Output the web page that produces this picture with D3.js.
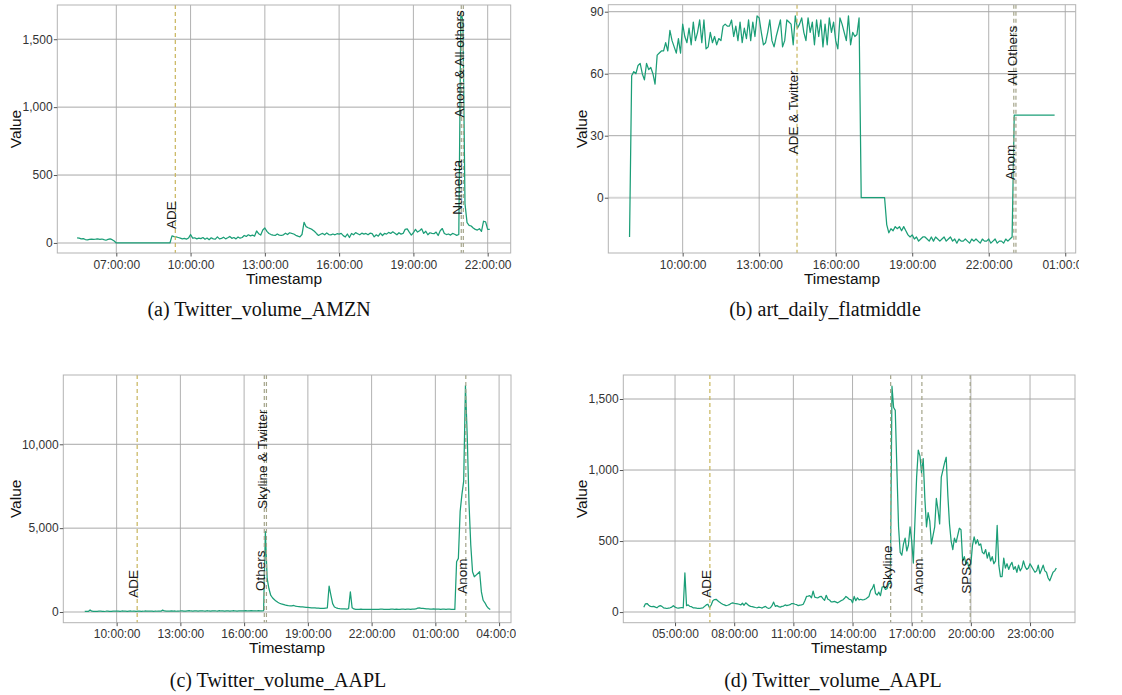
<!DOCTYPE html>
<html><head><meta charset="utf-8">
<script src="https://cdn.jsdelivr.net/npm/d3@7"></script>
<style>
html,body{margin:0;padding:0;background:#fff;}
svg{display:block;}
</style></head>
<body>
<svg id="chart" width="1122" height="695"></svg>
<script>
// ================= DATA =================
// (a) Twitter_volume_AMZN — 5-minute samples starting 05:25
const amznStart = "05:25";
const amznStepMin = 5;
const amznValues = [
  38,36,30,32,25,22,26,
  28,27,28,30,27,29,24,20,26,30,24,14,
  0,0,0,0,0,0,0,0,0,0,0,0,
  0,0,0,0,0,0,0,0,0,0,0,0,
  0,0,0,52,46,44,40,36,30,33,28,36,
  62,36,38,30,36,32,40,27,36,24,38,30,
  28,45,30,34,42,30,38,48,34,40,30,44,
  35,40,55,48,60,52,58,50,88,68,58,95,
  110,85,70,62,58,55,66,58,55,60,72,62,
  75,70,66,56,50,45,62,152,120,112,106,98,
  86,70,55,64,70,60,74,62,60,66,60,68,
  65,70,54,44,66,40,70,60,76,68,60,72,
  65,70,60,72,68,45,60,50,72,55,70,65,
  78,70,82,72,60,75,65,70,100,104,80,58,
  75,100,80,90,104,70,86,60,75,70,68,80,
  55,90,106,70,62,66,58,70,64,56,62,1690,
  1640,290,150,130,125,110,100,95,105,85,160,155,
  100,100
];
const amznMarkers = ["ADE", "Numenta", "Anom & All others"];
const amznMarkerTimes = ["09:23", "20:56", "21:01"];
const amznLabelAt = [103, 207, 923];
const amznXTicks = ["07:00:00", "10:00:00", "13:00:00", "16:00:00", "19:00:00", "22:00:00"];
const amznYTicks = [0, 500, 1000, 1500];
const amznCaption = "(a) Twitter_volume_AMZN";

// (b) art_daily_flatmiddle — 5-minute samples starting 07:55
const flatStart = "07:55";
const flatStepMin = 5;
const flatValues = [
  -19,
  59,61,60,64,65,60,57,65,62,63,60,55,
  69,70,71,71,75,71,81,76,73,70,77,70,
  84,78,75,82,74,85,76,80,86,75,86,72,
  73,80,75,78,74,77,76,83,84,83,83,86,
  78,83,76,85,75,82,77,86,76,85,78,88,
  87,80,74,75,80,86,76,73,78,82,86,73,
  76,86,85,84,74,88,82,84,87,80,76,87,
  80,85,74,86,78,86,73,84,74,87,80,85,
  76,72,87,84,80,76,88,74,80,78,79,87,
  0,0,0,0,0,0,0,0,0,0,0,0,
  -13,-17,-15,-16,-14,-15,-14,-16,-14,-16,-18,-19,
  -18,-20,-19,-21,-20,-19,-19,-20,-21,-19,-21,-19,
  -20,-21,-20,-19,-21,-20,-19,-21,-20,-22,-20,-21,
  -21,-20,-21,-22,-20,-21,-20,-21,-22,-20,-21,-21,
  -20,-22,-21,-20,-22,-21,-21,-22,-20,-21,-20,-19,
  40,40,40,40,40,40,40,40,40,40,40,40,
  40,40,40,40,40,40,40,40
];
const flatMarkers = ["ADE & Twitter", "Anom", "All Others"];
const flatMarkerTimes = ["14:29", "22:59", "23:04"];
const flatLabelAt = [21, 8.6, 54.5];
const flatXTicks = ["10:00:00", "13:00:00", "16:00:00", "19:00:00", "22:00:00", "01:00:00"];
const flatYTicks = [0, 30, 60, 90];
const flatCaption = "(b) art_daily_flatmiddle";

// (c) Twitter_volume_AAPL — 5-minute samples starting 08:30
const aaplCStart = "08:30";
const aaplCStepMin = 5;
const aaplCValues = [
  30,40,35,120,50,40,
  40,35,45,50,40,30,45,55,40,35,50,45,
  45,55,40,60,50,45,40,55,60,45,50,40,
  55,50,40,45,60,50,45,55,50,40,60,45,
  50,45,110,60,50,45,55,70,50,60,45,55,
  60,70,55,50,65,80,60,55,70,60,50,65,
  70,60,55,75,60,50,65,70,60,55,80,60,
  60,55,70,65,50,60,75,60,55,65,70,60,
  65,75,60,70,80,65,70,60,75,70,60,80,
  4800,2000,1400,1000,850,750,650,580,520,480,450,420,
  400,380,370,360,390,350,330,320,310,300,290,280,
  270,260,250,250,240,230,230,220,220,210,230,250,
  1550,1000,500,300,250,220,200,190,180,180,175,200,
  1200,250,180,160,160,150,170,160,150,160,150,155,
  160,150,155,160,150,165,170,160,155,160,150,165,
  170,160,165,155,160,170,165,160,170,165,160,175,
  170,180,230,240,220,210,200,190,180,170,175,180,
  170,165,175,160,165,170,160,165,170,160,155,150,
  3000,3200,6000,7000,7800,13500,10500,6500,4000,2400,2100,2200,
  2300,2400,1200,700,550,350,220,150
];
const aaplCMarkers = ["ADE", "Others", "Skyline & Twitter", "Anom"];
const aaplCMarkerTimes = ["10:58", "16:57", "17:03", "02:26"];
const aaplCLabelAt = [853, 1252, 6142, 1091];
const aaplCXTicks = ["10:00:00", "13:00:00", "16:00:00", "19:00:00", "22:00:00", "01:00:00", "04:00:00"];
const aaplCYTicks = [0, 5000, 10000];
const aaplCCaption = "(c) Twitter_volume_AAPL";

// (d) Twitter_volume_AAPL — 5-minute samples starting 03:25
const aaplDStart = "03:25";
const aaplDStepMin = 5;
const aaplDValues = [
  33,58,60,48,40,38,40,
  35,30,40,45,40,30,28,25,28,30,35,45,
  35,30,28,30,32,30,275,45,50,40,38,30,
  30,28,25,25,28,30,40,50,55,30,50,80,
  88,90,80,70,62,55,50,45,48,52,60,65,
  62,60,58,55,50,62,48,65,55,45,40,38,
  35,32,30,35,32,28,35,40,30,25,30,45,
  70,40,45,38,35,40,42,50,45,48,52,60,
  60,55,52,45,48,50,55,80,110,112,115,100,
  148,105,102,100,108,110,95,82,118,90,85,72,
  72,75,70,65,72,80,85,95,110,100,90,88,
  65,110,80,100,85,90,85,88,92,100,110,150,
  165,195,130,120,140,115,175,180,160,165,200,200,
  1590,1440,1420,1000,600,420,400,480,520,430,470,600,
  500,345,650,950,1140,1100,980,1080,800,600,700,640,
  480,540,600,800,720,620,950,1000,1050,1090,820,620,
  500,440,520,490,540,590,580,360,390,340,350,300,
  340,470,530,480,510,470,480,420,410,440,380,420,
  360,390,340,360,610,330,250,250,380,310,340,300,
  330,350,300,320,280,330,290,310,360,320,300,310,
  340,320,300,280,290,330,270,300,330,290,280,240,
  220,250,280,290,310
];
const aaplDMarkers = ["ADE", "Skyline", "Anom", "SPSS"];
const aaplDMarkerTimes = ["06:46", "15:56", "17:31", "19:58"];
const aaplDLabelAt = [101, 162, 129, 129];
const aaplDXTicks = ["05:00:00", "08:00:00", "11:00:00", "14:00:00", "17:00:00", "20:00:00", "23:00:00"];
const aaplDYTicks = [0, 500, 1000, 1500];
const aaplDCaption = "(d) Twitter_volume_AAPL";

// ================= LAYOUT =================
const layout = {
  a: {x0: 57.3, x1: 510.7, y0: 5, y1: 253, xDom: [4.617, 22.93], yDom: [-74, 1752], clip: [0, 560], valueX: 15, capX: 259, capY: 316},
  b: {x0: 608.3, x1: 1075.7, y0: 4.7, y1: 253, xDom: [7.084, 25.41], yDom: [-26.76, 93.39], clip: [560, 1079], valueX: 581.7, capX: 825, capY: 316},
  c: {x0: 63.3, x1: 511, y0: 375, y1: 622.7, xDom: [7.49, 28.56], yDom: [-638, 14132], clip: [0, 516], valueX: 15, capX: 278, capY: 687},
  d: {x0: 623.3, x1: 1075, y0: 375, y1: 622.7, xDom: [2.377, 25.28], yDom: [-75, 1669], clip: [560, 1122], valueX: 581.7, capX: 833, capY: 687}
};

const SANS = "'Liberation Sans', Arial, Helvetica, sans-serif";
const SERIF = "'Liberation Serif', 'Times New Roman', serif";
const LINE_COLOR = "#1b9e77";
const ADE_COLOR = "#c8b55c";
const OTHER_COLOR = "#a4a48a";

const panels = [
  {id: "a", start: amznStart, step: amznStepMin, values: amznValues, markers: amznMarkers, markerTimes: amznMarkerTimes, labelAt: amznLabelAt, xTicks: amznXTicks, yTicks: amznYTicks, caption: amznCaption, L: layout.a},
  {id: "b", start: flatStart, step: flatStepMin, values: flatValues, markers: flatMarkers, markerTimes: flatMarkerTimes, labelAt: flatLabelAt, xTicks: flatXTicks, yTicks: flatYTicks, caption: flatCaption, L: layout.b},
  {id: "c", start: aaplCStart, step: aaplCStepMin, values: aaplCValues, markers: aaplCMarkers, markerTimes: aaplCMarkerTimes, labelAt: aaplCLabelAt, xTicks: aaplCXTicks, yTicks: aaplCYTicks, caption: aaplCCaption, L: layout.c},
  {id: "d", start: aaplDStart, step: aaplDStepMin, values: aaplDValues, markers: aaplDMarkers, markerTimes: aaplDMarkerTimes, labelAt: aaplDLabelAt, xTicks: aaplDXTicks, yTicks: aaplDYTicks, caption: aaplDCaption, L: layout.d}
];

// ================= DRAW =================
const svg = d3.select("#chart");
const defs = svg.append("defs");
const BASE = Date.UTC(2015, 2, 1);
const hm = s => { const p = s.split(":").map(Number); return p[0] + (p[1] || 0) / 60 + (p[2] || 0) / 3600; };
const toDate = h => new Date(BASE + h * 3600e3);
const fmt = d3.format(",");

panels.forEach(p => {
  const L = p.L;
  const startH = hm(p.start);
  const wrap = h => (h < startH - 1e-6 ? h + 24 : h);
  const pts = p.values.map((v, i) => ({t: toDate(startH + i * p.step / 60), v}));

  const x = d3.scaleUtc().domain(L.xDom.map(toDate)).range([L.x0, L.x1]);
  const y = d3.scaleLinear().domain(L.yDom).range([L.y1, L.y0]);

  defs.append("clipPath").attr("id", "clip-" + p.id)
    .append("rect").attr("x", L.clip[0]).attr("y", 0)
    .attr("width", L.clip[1] - L.clip[0]).attr("height", 695);

  const g = svg.append("g").attr("clip-path", `url(#clip-${p.id})`);
  const xTickDates = p.xTicks.map(s => toDate(wrap(hm(s))));

  // grid
  g.append("g").selectAll("line").data(p.yTicks).join("line")
    .attr("x1", L.x0).attr("x2", L.x1)
    .attr("y1", d => y(d)).attr("y2", d => y(d))
    .attr("stroke", d => d === 0 ? "#d6d6d6" : "#a8a8a8")
    .attr("stroke-width", d => d === 0 ? 2 : 1);
  g.append("g").selectAll("line").data(xTickDates).join("line")
    .attr("x1", d => x(d)).attr("x2", d => x(d))
    .attr("y1", L.y0).attr("y2", L.y1)
    .attr("stroke", "#a8a8a8").attr("stroke-width", 0.9);

  // series
  g.append("path").datum(pts)
    .attr("d", d3.line().x(d => x(d.t)).y(d => y(d.v)))
    .attr("fill", "none").attr("stroke", LINE_COLOR)
    .attr("stroke-width", 1.25).attr("stroke-linejoin", "round");

  // marker lines
  const mk = p.markers.map((name, i) => ({name, t: toDate(wrap(hm(p.markerTimes[i]))), at: p.labelAt[i]}));
  g.append("g").selectAll("line").data(mk).join("line")
    .attr("x1", d => x(d.t)).attr("x2", d => x(d.t))
    .attr("y1", L.y0).attr("y2", L.y1)
    .attr("stroke", d => d.name.startsWith("ADE") ? ADE_COLOR : OTHER_COLOR)
    .attr("stroke-width", 1.2).attr("stroke-dasharray", "4,3");

  // border
  g.append("rect").attr("x", L.x0).attr("y", L.y0)
    .attr("width", L.x1 - L.x0).attr("height", L.y1 - L.y0)
    .attr("fill", "none").attr("stroke", "#b3b3b3").attr("stroke-width", 1);

  // marker labels
  g.append("g").selectAll("text").data(mk).join("text")
    .attr("transform", d => `translate(${x(d.t) + 1},${y(d.at)}) rotate(-90)`)
    .attr("font-family", SANS).attr("font-size", 13.5).attr("fill", "#1a1a1a")
    .text(d => d.name);

  // axes
  const ax = g.append("g").attr("transform", `translate(0,${L.y1})`)
    .call(d3.axisBottom(x).tickValues(xTickDates).tickFormat((d, i) => p.xTicks[i]).tickSize(3.5).tickPadding(3.5));
  ax.select(".domain").remove();
  ax.selectAll("line").attr("stroke", "#555");
  ax.selectAll("text").attr("font-family", SANS).attr("font-size", 12).attr("fill", "#333");

  const ay = g.append("g").attr("transform", `translate(${L.x0},0)`)
    .call(d3.axisLeft(y).tickValues(p.yTicks).tickFormat(fmt).tickSize(3.5).tickPadding(1.2));
  ay.select(".domain").remove();
  ay.selectAll("line").attr("stroke", "#555");
  ay.selectAll("text").attr("font-family", SANS).attr("font-size", 12).attr("fill", "#333");

  // axis titles
  g.append("text").attr("x", (L.x0 + L.x1) / 2).attr("y", L.y1 + 30.5)
    .attr("text-anchor", "middle").attr("font-family", SANS).attr("font-size", 15.5).attr("fill", "#111")
    .text("Timestamp");
  g.append("text").attr("transform", `translate(${L.valueX + 5.5},${(L.y0 + L.y1) / 2}) rotate(-90)`)
    .attr("text-anchor", "middle").attr("font-family", SANS).attr("font-size", 15.5).attr("fill", "#111")
    .text("Value");

  // caption
  svg.append("text").attr("x", L.capX).attr("y", L.capY)
    .attr("text-anchor", "middle").attr("font-family", SERIF).attr("font-size", 20).attr("fill", "#111")
    .text(p.caption);
});
</script>
</body></html>
